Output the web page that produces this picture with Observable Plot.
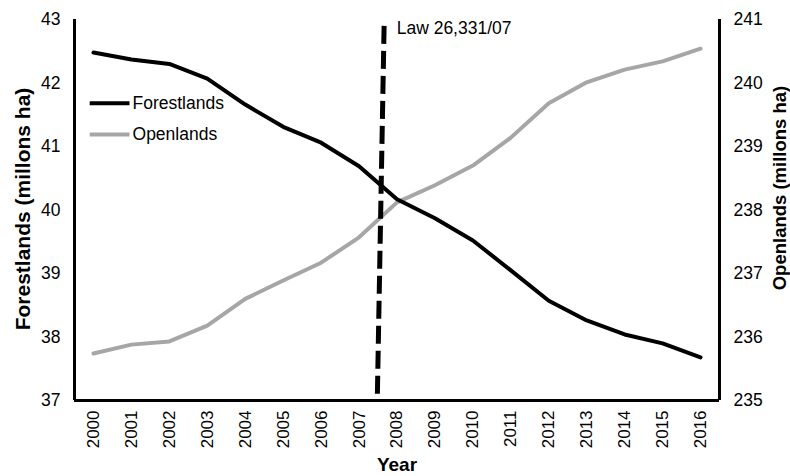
<!DOCTYPE html>
<html>
<head>
<meta charset="utf-8">
<script src="https://cdn.jsdelivr.net/npm/d3@7"></script>
<script src="https://cdn.jsdelivr.net/npm/@observablehq/plot@0.6"></script>
<style>
  html, body { margin: 0; padding: 0; background: #fff; }
  #chart svg { font-family: "Liberation Sans", Arial, sans-serif; }
</style>
</head>
<body>
<div id="chart"></div>
<script>
const years = [2000,2001,2002,2003,2004,2005,2006,2007,2008,2009,2010,2011,2012,2013,2014,2015,2016];
const forestlands = [42.48,42.37,42.30,42.07,41.66,41.31,41.06,40.69,40.17,39.87,39.52,39.05,38.57,38.26,38.04,37.90,37.68];
const openlands = [235.74,235.88,235.93,236.18,236.60,236.89,237.17,237.57,238.12,238.39,238.70,239.14,239.68,240.01,240.21,240.34,240.54];
const leftTicks = [37,38,39,40,41,42,43];
const rightTicks = [235,236,237,238,239,240,241];
const lawYear = 2007.57;
const lawLabel = "Law 26,331/07";
const seriesNames = ["Forestlands", "Openlands"];
const seriesColors = ["#000000", "#a6a6a6"];

// right axis offset: 235 on the right aligns with 37 on the left
const offset = rightTicks[0] - leftTicks[0];

const forestData = years.map((y, i) => ({year: y, value: forestlands[i]}));
const openData = years.map((y, i) => ({year: y, value: openlands[i]}));
const legend = seriesNames.map((name, i) => ({name, color: seriesColors[i], row: i}));

const xMin = years[0] - 0.5, xMax = years[years.length - 1] + 0.5;
const yMin = leftTicks[0], yMax = leftTicks[leftTicks.length - 1];
const fs = 17.5;

const chart = Plot.plot({
  width: 790,
  height: 476,
  marginLeft: 74,
  marginRight: 71,
  marginTop: 19,
  marginBottom: 76,
  style: {fontSize: fs + "px", fontFamily: "Liberation Sans, Arial, sans-serif", color: "#000", background: "#fff"},
  x: {domain: [xMin, xMax], axis: null},
  y: {domain: [yMin, yMax], axis: null},
  marks: [
    Plot.axisX({ticks: years, tickFormat: d => String(d), tickRotate: -90, tickSize: 0, tickPadding: 10, label: null, fontSize: 17}),
    Plot.axisY({anchor: "left", ticks: leftTicks, tickFormat: d => String(d), tickSize: 0, tickPadding: 14, label: null, fontSize: fs}),
    Plot.axisY({anchor: "right", ticks: leftTicks, tickFormat: d => String(d + offset), tickSize: 0, tickPadding: 14, label: null, fontSize: fs}),
    Plot.line(openData, {x: "year", y: d => d.value - offset, stroke: seriesColors[1], strokeWidth: 4, strokeLinejoin: "round"}),
    Plot.line(forestData, {x: "year", y: "value", stroke: seriesColors[0], strokeWidth: 4, strokeLinejoin: "round"}),
    Plot.link([lawYear], {x1: d => d + 0.09, y1: 42.9, x2: d => d - 0.09, y2: yMin, stroke: "#000", strokeWidth: 5, strokeDasharray: "18,7"}),
    Plot.text([lawLabel], {x: lawYear, y: 42.86, text: d => d, textAnchor: "start", dx: 16, fontSize: fs}),
    Plot.ruleX([xMin, xMax], {stroke: "#000", strokeWidth: 3}),
    Plot.ruleY([yMin], {x1: xMin, x2: xMax, stroke: "#000", strokeWidth: 3}),
    // legend
    Plot.link(legend, {x1: 1999.9, x2: 2000.95, y1: d => 41.68 - d.row * 0.49, y2: d => 41.68 - d.row * 0.49, stroke: "color", strokeWidth: 4}),
    Plot.text(legend, {x: 2000.95, y: d => 41.68 - d.row * 0.49, text: "name", textAnchor: "start", dx: 3, fontSize: fs}),
    // axis titles
    Plot.text(["Forestlands (millons ha)"], {frameAnchor: "left", textAnchor: "middle", dx: -51, dy: -1, rotate: -90, text: d => d, fontWeight: "bold", fontSize: 21}),
    Plot.text(["Openlands (millons ha)"], {frameAnchor: "right", textAnchor: "middle", dx: 61, dy: -22, rotate: -90, text: d => d, fontWeight: "bold", fontSize: 18.5}),
    Plot.text(["Year"], {frameAnchor: "bottom", dy: 70, text: d => d, fontWeight: "bold", fontSize: 19})
  ]
});
document.getElementById("chart").appendChild(chart);
</script>
</body>
</html>
